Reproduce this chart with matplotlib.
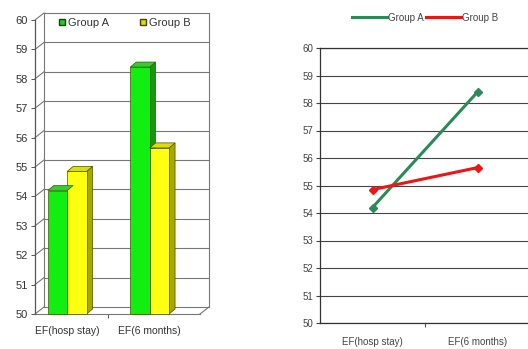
import matplotlib.pyplot as plt
from matplotlib.patches import Polygon
from matplotlib.lines import Line2D

categories = ["EF(hosp stay)", "EF(6 months)"]
group_a = [54.2, 58.4]
group_b = [54.85, 55.65]
y_ticks = [50, 51, 52, 53, 54, 55, 56, 57, 58, 59, 60]

plt.rcParams['font.family'] = ['Liberation Sans', 'DejaVu Sans']

W, H = 528, 349
fig = plt.figure(figsize=(W / 100, H / 100), dpi=100)
fig.patch.set_facecolor('white')


def px_box(x0, y0, x1, y1):
    # pixel box (top-left origin) -> figure fraction rect
    return [x0 / W, 1 - y1 / H, (x1 - x0) / W, (y1 - y0) / H]


# ---------- left: pseudo 3D bar chart ----------
ax1 = fig.add_axes(px_box(35, 20, 200, 314))
ax1.set_xlim(-0.39, 1.61)
ax1.set_ylim(50, 60)
for s in ax1.spines.values():
    s.set_visible(False)
ax1.patch.set_visible(False)

px_x = 2.0 / 165      # data units per pixel, x
px_y = 10.0 / 294     # data units per pixel, y
wall_dx, wall_dy = 9 * px_x, 7 * px_y
bar_dx, bar_dy = 6 * px_x, 5 * px_y
x_lo, x_hi = -0.39, 1.61

line_kw = dict(color='#777777', lw=0.8, clip_on=False)
# back wall gridlines
for v in y_ticks:
    ax1.add_line(Line2D([x_lo + wall_dx, x_hi + wall_dx], [v + wall_dy, v + wall_dy], **line_kw))
    ax1.add_line(Line2D([x_lo, x_lo + wall_dx], [v, v + wall_dy], **line_kw))
ax1.add_line(Line2D([x_lo + wall_dx, x_lo + wall_dx], [50 + wall_dy, 60 + wall_dy], **line_kw))
ax1.add_line(Line2D([x_hi + wall_dx, x_hi + wall_dx], [50 + wall_dy, 60 + wall_dy], **line_kw))
# floor front edge
ax1.add_line(Line2D([x_lo, x_hi], [50, 50], **line_kw))
ax1.add_line(Line2D([x_hi, x_hi + wall_dx], [50, 50 + wall_dy], **line_kw))
ax1.add_line(Line2D([x_lo, x_lo], [50, 60], color='#555555', lw=0.9, clip_on=False))

bw = 0.235
series = [(group_a, -bw / 2, '#11ee11', '#119911', '#33cc33'),
          (group_b, bw / 2, '#ffff11', '#a8a800', '#dddd00')]
for vals, off, face, side, top in series:
    for i, v in enumerate(vals):
        x0 = i + off - bw / 2
        x1 = i + off + bw / 2
        ax1.bar(i + off, v - 50, bw, bottom=50, color=face, edgecolor='#445500',
                linewidth=0.5, zorder=3, clip_on=False)
        ax1.add_patch(Polygon([(x1, 50), (x1 + bar_dx, 50 + bar_dy), (x1 + bar_dx, v + bar_dy), (x1, v)],
                              closed=True, facecolor=side, edgecolor='#445500', lw=0.5, zorder=2, clip_on=False))
        ax1.add_patch(Polygon([(x0, v), (x0 + bar_dx, v + bar_dy), (x1 + bar_dx, v + bar_dy), (x1, v)],
                              closed=True, facecolor=top, edgecolor='#445500', lw=0.5, zorder=4, clip_on=False))

ax1.set_yticks(y_ticks)
ax1.set_yticklabels([str(t) for t in y_ticks], fontsize=8, color='#333333')
ax1.tick_params(axis='y', length=3, width=0.7, color='#555555', pad=2)
ax1.set_xticks([0, 1])
ax1.set_xticklabels(categories, fontsize=7.5, color='#333333')
ax1.tick_params(axis='x', length=0, pad=9)
ax1.set_xticks([0.5], minor=True)
ax1.tick_params(axis='x', which='minor', length=3, width=0.7, color='#555555')

h_a = Line2D([], [], marker='s', ls='none', markersize=5, markerfacecolor='#22cc22', markeredgecolor='#114411')
h_b = Line2D([], [], marker='s', ls='none', markersize=5, markerfacecolor='#dddd00', markeredgecolor='#444400')
leg1 = ax1.legend([h_a, h_b], ["Group A", "Group B"], ncol=2, loc='upper left',
                  bbox_to_anchor=(0.07, 1.04), fontsize=8, frameon=False,
                  handletextpad=0.0, columnspacing=2.6, handlelength=1.0)
for t in leg1.get_texts():
    t.set_color('#333333')

# ---------- right: line chart ----------
ax2 = fig.add_axes(px_box(320, 48, 530, 323))
ax2.set_xlim(0, 2)
ax2.set_ylim(50, 60)
xs = [0.5, 1.5]
ax2.plot(xs, group_a, color='#2a8a58', lw=2.2, marker='D', markersize=4.5, zorder=3)
ax2.plot(xs, group_b, color='#ee1515', lw=2.2, marker='D', markersize=4.5, zorder=3)
ax2.set_yticks(y_ticks)
ax2.set_yticklabels([str(t) for t in y_ticks], fontsize=7, color='#444444')
ax2.yaxis.grid(True, color='#444444', lw=0.8)
ax2.set_axisbelow(True)
ax2.set_xticks(xs)
ax2.set_xticklabels(categories, fontsize=7, color='#444444')
ax2.tick_params(axis='x', length=0, pad=10)
ax2.set_xticks([1], minor=True)
ax2.tick_params(axis='x', which='minor', length=3, width=0.8, color='#555555')
ax2.tick_params(axis='y', length=3, width=0.8, color='#444444', pad=2)
for s in ax2.spines.values():
    s.set_color('#333333')
    s.set_linewidth(0.9)

l_a = Line2D([], [], color='#2a8a58', lw=2.2)
l_b = Line2D([], [], color='#ee1515', lw=2.2)
leg2 = ax2.legend([l_a, l_b], ["Group A", "Group B"], ncol=2, loc='center',
                  bbox_to_anchor=(0.5, 1.11), fontsize=7, frameon=False,
                  handlelength=3.6, handletextpad=0.1, columnspacing=0.3)
for t in leg2.get_texts():
    t.set_color('#444444')

fig.savefig('out.png', dpi=100)
